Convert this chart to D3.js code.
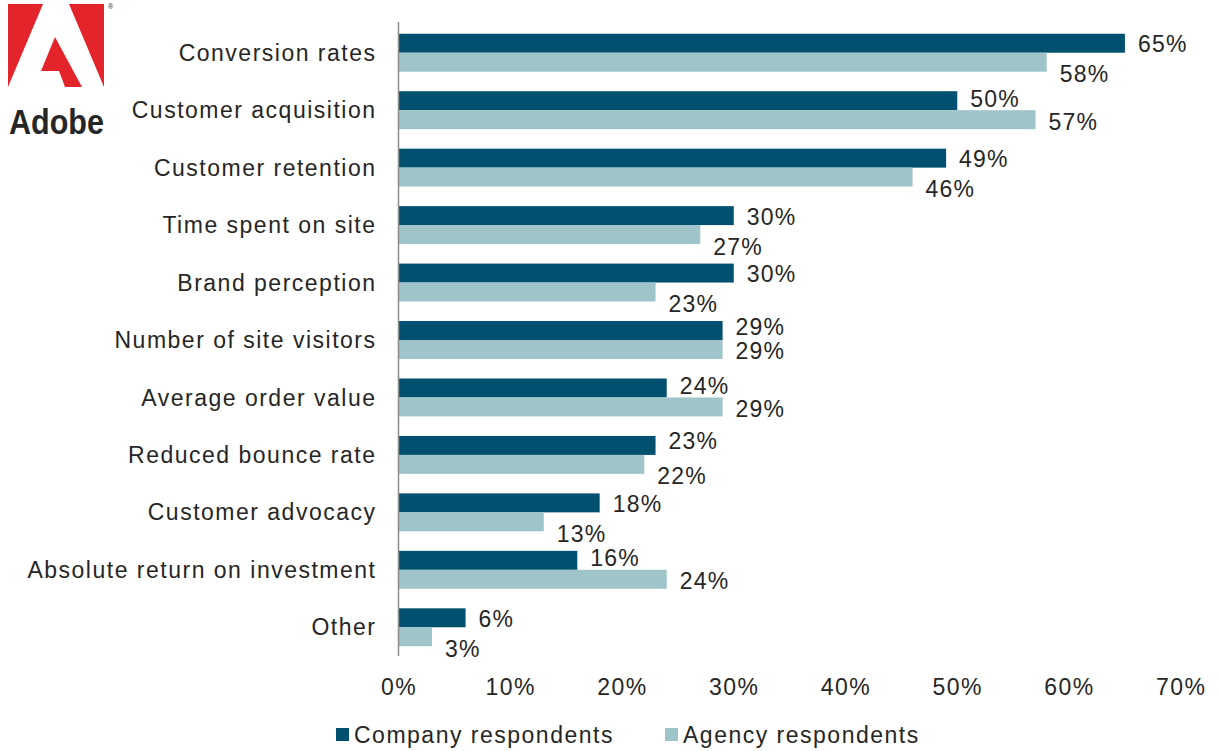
<!DOCTYPE html>
<html>
<head>
<meta charset="utf-8">
<script src="https://cdn.jsdelivr.net/npm/d3@7/dist/d3.min.js"></script>
<style>
  html, body { margin: 0; padding: 0; background: #ffffff; }
  svg text { font-family: "Liberation Sans", Arial, sans-serif; fill: #262626; }
</style>
</head>
<body>
<svg id="chart" width="1219" height="751"></svg>
<script>
// Success metrics by respondent group (% of respondents)
const categories = [
  "Conversion rates",
  "Customer acquisition",
  "Customer retention",
  "Time spent on site",
  "Brand perception",
  "Number of site visitors",
  "Average order value",
  "Reduced bounce rate",
  "Customer advocacy",
  "Absolute return on investment",
  "Other"
];
const companyValues = [65, 50, 49, 30, 30, 29, 24, 23, 18, 16, 6];
const agencyValues  = [58, 57, 46, 27, 23, 29, 29, 22, 13, 24, 3];
const seriesNames = ["Company respondents", "Agency respondents"];
const xTicks = [0, 10, 20, 30, 40, 50, 60, 70];

const colors = { company: "#01506f", agency: "#9fc5cb" };

const svg = d3.select("#chart");

const x = d3.scaleLinear().domain([0, 70]).range([398.5, 1180.8]);
const y = d3.scaleBand().domain(categories).range([24, 656])
  .paddingInner(0.34).paddingOuter(0.17);
const sub = d3.scaleBand().domain(["company", "agency"]).range([0, y.bandwidth()]);

const rows = categories.map((c, i) => ({ cat: c, company: companyValues[i], agency: agencyValues[i] }));

// Bars
const g = svg.append("g");
rows.forEach(r => {
  ["company", "agency"].forEach(k => {
    g.append("rect")
      .attr("x", x(0))
      .attr("y", y(r.cat) + sub(k))
      .attr("width", x(r[k]) - x(0))
      .attr("height", sub.bandwidth())
      .attr("fill", colors[k]);
  });
});

// Value labels: the agency label drops below its bar when the company bar is longer
const labelStyle = sel => sel
  .attr("font-size", 23).attr("letter-spacing", "1.2px").attr("dominant-baseline", "central");
rows.forEach(r => {
  const cy = y(r.cat) + sub("company") + sub.bandwidth() / 2;
  const ly = y(r.cat) + sub("agency") + sub.bandwidth() / 2;
  const close = Math.abs(r.company - r.agency) < 2;
  svg.append("text").call(labelStyle)
    .attr("x", x(r.company) + 13)
    .attr("y", cy + (close ? -4 : 1) + (r.agency > r.company ? -3 : 0))
    .text(r.company + "%");
  svg.append("text").call(labelStyle)
    .attr("x", x(r.agency) + 13)
    .attr("y", ly + (r.agency < r.company ? 12 : 2))
    .text(r.agency + "%");
});

// Category axis
const yAxis = svg.append("g")
  .attr("transform", `translate(${x(0)},0)`)
  .call(d3.axisLeft(y).tickSize(0).tickPadding(22));
yAxis.select(".domain").remove();
yAxis.selectAll("text")
  .attr("font-size", 23).attr("letter-spacing", "1.5px")
  .attr("font-family", null).attr("fill", null).attr("dy", "0.35em");
svg.append("line")
  .attr("x1", x(0)).attr("x2", x(0)).attr("y1", 22).attr("y2", 656)
  .attr("stroke", "#8c8c8c").attr("stroke-width", 1.5);

// Value axis labels
const xAxis = svg.append("g")
  .attr("transform", "translate(0,678)")
  .call(d3.axisBottom(x).tickValues(xTicks).tickSize(0).tickPadding(0).tickFormat(d => d + "%"));
xAxis.select(".domain").remove();
xAxis.selectAll("text")
  .attr("font-size", 23).attr("letter-spacing", "1.5px")
  .attr("font-family", null).attr("fill", null).attr("dy", "0.75em");

// Legend
const legend = svg.append("g").attr("transform", "translate(0,735)");
const legendItems = [
  { name: seriesNames[0], color: colors.company, x: 336 },
  { name: seriesNames[1], color: colors.agency, x: 665 }
];
legendItems.forEach(it => {
  legend.append("rect").attr("x", it.x).attr("y", -7).attr("width", 13).attr("height", 13).attr("fill", it.color);
  legend.append("text").attr("x", it.x + 18).attr("y", 0)
    .attr("font-size", 23).attr("letter-spacing", "1.5px").attr("dominant-baseline", "central")
    .text(it.name);
});

// Adobe logo
const logo = svg.append("g");
logo.append("path").attr("d", "M8,4 L43,4 L8,87 Z").attr("fill", "#e3252b");
logo.append("path").attr("d", "M69,4 L104,4 L104,87 Z").attr("fill", "#e3252b");
logo.append("path").attr("d", "M55,37 L82,87 L65,87 L59,71 L41,71 Z").attr("fill", "#e3252b");
logo.append("text").attr("x", 108).attr("y", 9).attr("font-size", 7).attr("fill", "#666").text("®");
logo.append("text").attr("x", 9).attr("y", 134)
  .attr("font-family", "'Liberation Sans Narrow', 'DejaVu Sans Condensed', Arial, sans-serif")
  .attr("font-weight", "bold").attr("font-size", 35).attr("fill", "#1a1a1a")
  .attr("textLength", 95).attr("lengthAdjust", "spacingAndGlyphs")
  .text("Adobe");
</script>
</body>
</html>
